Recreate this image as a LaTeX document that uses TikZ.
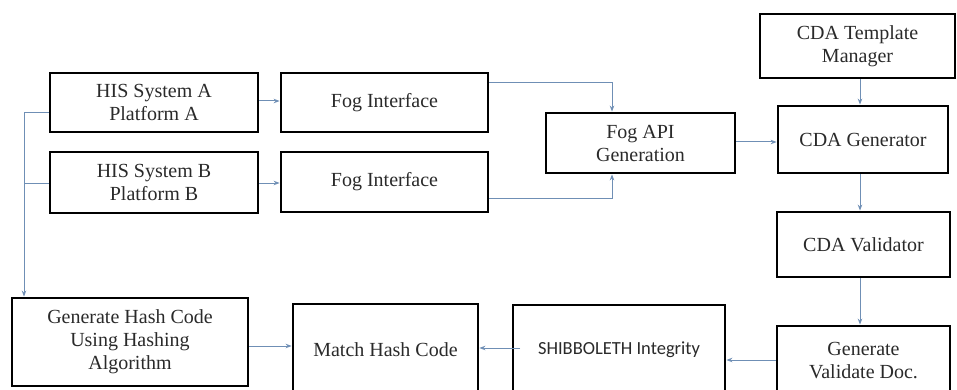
\documentclass[tikz,border=0pt]{standalone}
\usepackage{fontspec}
\setmainfont{Liberation Serif}
\newfontfamily\labelsans{Carlito}
\usetikzlibrary{arrows.meta}
\definecolor{linkblue}{HTML}{6F8FB5}
\definecolor{inkgray}{HTML}{2A2A2A}
\begin{document}
\begin{tikzpicture}[x=1pt,y=-1pt,
  blk/.style={draw=black,line width=2.8pt,fill=white,align=center,
    inner sep=0pt,text=inkgray,font=\fontsize{20}{23}\selectfont},
  conn/.style={draw=linkblue,line width=1pt},
  arr/.style={conn,-{Stealth[length=6pt,width=4.5pt]}}]
\path[use as bounding box,clip] (0,0) rectangle (957,390);

% boxes
\node[blk,minimum width=208pt,minimum height=59pt] (hisA) at (154,102.5) {HIS System A\\Platform A};
\node[blk,minimum width=208pt,minimum height=61pt] (hisB) at (154,182.5) {HIS System B\\Platform B};
\node[blk,minimum width=207pt,minimum height=59pt] (fogA) at (384.5,102.5) {Fog Interface};
\node[blk,minimum width=207pt,minimum height=60pt] (fogB) at (384.5,182) {Fog Interface};
\node[blk,minimum width=189pt,minimum height=60pt] (api) at (640.5,143) {Fog API\\Generation};
\node[blk,minimum width=195pt,minimum height=64pt] (tmpl) at (857.5,46) {CDA Template\\Manager};
\node[blk,minimum width=170pt,minimum height=67pt] (gen) at (863,139.5) {CDA Generator};
\node[blk,minimum width=173pt,minimum height=65pt] (val) at (863.5,244.5) {CDA Validator};
\node[blk,minimum width=173pt,minimum height=69pt] (gvd) at (863.5,360.5) {Generate\\Validate Doc.};
\node[blk,minimum width=212pt,minimum height=90pt,font=\labelsans\fontsize{18.5}{21}\selectfont] (shib) at (619,350) {SHIBBOLETH Integrity};
\node[blk,minimum width=185pt,minimum height=92pt] (match) at (385.5,350) {Match Hash Code};
\node[blk,minimum width=236pt,minimum height=88pt] (hash) at (130,342) {Generate Hash Code\\Using Hashing\\Algorithm};

% left trunk joining both HIS systems to the hash generator
\coordinate (tkA) at (24,113);
\coordinate (tkB) at (24,183);
\draw[conn] (hisA.west |- tkA) -- (tkA);
\draw[conn] (hisB.west |- tkB) -- (tkB);
\draw[arr] (tkA) -- (hash.north -| tkA);

% HIS systems to fog interfaces
\draw[arr] (hisA.east |- 0,101) -- (fogA.west |- 0,101);
\draw[arr] (hisB.east |- 0,183) -- (fogB.west |- 0,183);

% fog interfaces to the API
\draw[arr] (fogA.east |- 0,83) -| (api.north -| 612,0);
\draw[arr] (fogB.east |- 0,198) -| (api.south -| 612,0);

% CDA chain
\draw[arr] (api.east |- 0,142) -- (gen.west |- 0,142);
\draw[arr] (tmpl.south -| 860,0) -- (gen.north -| 860,0);
\draw[arr] (gen.south -| 860,0) -- (val.north -| 860,0);
\draw[arr] (val.south -| 860,0) -- (gvd.north -| 860,0);

% bottom row
\draw[arr] (gvd.west |- 0,360) -- (shib.east |- 0,360);
\draw[arr] (520,348) -- (match.east |- 0,348);
\draw[arr] (hash.east |- 0,346) -- (match.west |- 0,346);
\end{tikzpicture}
\end{document}
